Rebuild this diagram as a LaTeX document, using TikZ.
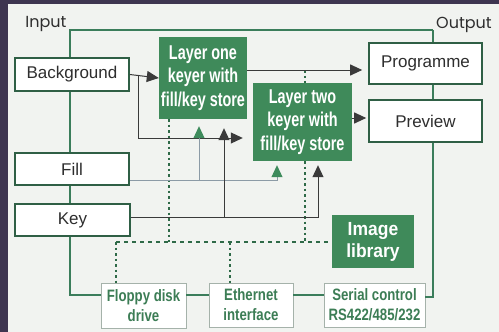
\documentclass[tikz,border=0pt]{standalone}
\usepackage{fontspec}
\setmainfont{Liberation Sans}
\newfontfamily\condb[FakeStretch=0.72]{Liberation Sans Bold}
\newfontfamily\imgb[FakeStretch=0.92]{Liberation Sans Bold}
\newfontfamily\botb[FakeStretch=0.8]{Liberation Sans Bold}
\newfontfamily\geo{Poppins}
\usetikzlibrary{arrows.meta}
\definecolor{framec}{HTML}{3E3550}
\definecolor{bgc}{HTML}{F1F3F0}
\definecolor{busc}{HTML}{3B7D5B}
\definecolor{boxedge}{HTML}{2F5F45}
\definecolor{greenfill}{HTML}{3F8A5A}
\definecolor{botedge}{HTML}{A5B2AA}
\definecolor{bottext}{HTML}{3C7D55}
\definecolor{connc}{HTML}{3A3A3A}
\definecolor{fillc}{HTML}{8C9BA6}
\definecolor{arrgreen}{HTML}{3E8B5C}
\definecolor{dotc}{HTML}{2F6A48}
\definecolor{textc}{HTML}{2E2E2E}
\tikzset{
  whitebox/.style={draw=boxedge, line width=1.6pt, fill=white, inner sep=0pt, text=textc,
    font=\fontsize{17}{19}\selectfont},
  greenbox/.style={fill=greenfill, inner sep=0pt, text=white, align=center,
    font=\condb\fontsize{20}{23.5}\selectfont},
  imgbox/.style={fill=greenfill, inner sep=0pt, text=white, align=center,
    font=\imgb\fontsize{19}{22}\selectfont},
  botbox/.style={draw=botedge, line width=0.8pt, fill=white, inner sep=0pt, text=bottext, align=center,
    font=\botb\fontsize{16.5}{20}\selectfont},
  label/.style={text=textc, inner sep=0pt, font=\geo\fontsize{16}{18}\selectfont},
  bus/.style={draw=busc, line width=1.9pt},
  conn/.style={draw=connc, line width=1pt},
  fillconn/.style={draw=fillc, line width=1pt},
  darrow/.style={-{Triangle[length=12pt,width=11pt,color=connc]}},
  garrow/.style={-{Triangle[length=12pt,width=11pt,color=arrgreen]}},
  vdot/.style={draw=dotc, line width=1.7pt, dash pattern=on 2.5pt off 3pt},
  hdash/.style={draw=dotc, line width=1.7pt, dash pattern=on 4pt off 4pt},
}
\begin{document}
\begin{tikzpicture}[x=1pt,y=-1pt]
\useasboundingbox (0,0) rectangle (499,332);
\fill[framec] (0,0) rectangle (499,332);
\fill[bgc] (8,4) rectangle (499,332);

% nodes
\node[label] (input) at (46,24) {Input};
\node[label] (output) at (464,25) {Output};
\node[whitebox, minimum width=114pt, minimum height=33pt] (bg) at (72,74.5) {Background};
\node[whitebox, minimum width=114pt, minimum height=32pt] (fill) at (72,169) {Fill};
\node[whitebox, minimum width=115pt, minimum height=32pt] (key) at (72.5,220) {Key};
\node[greenbox, minimum width=88pt, minimum height=82pt] (l1) at (203,78) {Layer one\\keyer with\\fill/key store};
\node[greenbox, minimum width=99pt, minimum height=78pt] (l2) at (302.5,122) {Layer two\\keyer with\\fill/key store};
\node[whitebox, minimum width=113pt, minimum height=41pt] (prog) at (425.5,63.5) {Programme};
\node[whitebox, minimum width=113pt, minimum height=42pt] (prev) at (425.5,121) {Preview};
\node[imgbox, minimum width=82pt, minimum height=53pt] (img) at (373,241.5) {Image\\library};
\node[botbox, minimum width=85pt, minimum height=45pt] (floppy) at (143.5,305.5) {Floppy disk\\drive};
\node[botbox, minimum width=84pt, minimum height=44pt] (eth) at (251,305) {Ethernet\\interface};
\node[botbox, minimum width=101pt, minimum height=44pt] (serial) at (374.5,305) {Serial control\\RS422/485/232};

% bus coordinates
\coordinate (tl) at (70,30);
\coordinate (tr) at (433,30);
\coordinate (bl) at (70,295);
\coordinate (br) at (433,297);

% bus
\draw[bus] (tr) -- (tl) -- (tl |- bg.north);
\draw[bus] (bg.south -| tl) -- (fill.north -| tl);
\draw[bus] (fill.south -| tl) -- (key.north -| tl);
\draw[bus] (key.south -| tl) -- (bl) -- (floppy.west |- bl);
\draw[bus] (floppy.east |- bl) -- (eth.west |- bl);
\draw[bus] (eth.east |- bl) -- (serial.west |- bl);
\draw[bus] (serial.east |- br) -- (br) -- (prev.south -| br);
\draw[bus] (prev.north -| br) -- (prog.south -| br);
\draw[bus] (prog.north -| br) -- (tr);

% dotted / dashed links
\coordinate (d1) at (169,242);
\coordinate (d2) at (305,242);
\coordinate (d3) at (116,242);
\coordinate (d4) at (230,242);
\draw[vdot] (l1.south -| d1) -- (d1);
\draw[vdot] (l2.south -| d2) -- (d2);
\draw[vdot] (d2 |- 0,70) -- (l2.north -| d2);
\draw[hdash] (d3) -- (img.west |- d3);
\draw[vdot] (d3) -- (floppy.north -| d3);
\draw[vdot] (d4) -- (eth.north -| d4);

% background connectors
\coordinate (j1) at (138,74.5);
\draw[conn, darrow] (bg.east) -- (l1.west);
\draw[conn, darrow, shorten >=10pt] (j1) |- (l2.west |- 0,138);
\draw[conn, darrow, shorten >=6pt] (l1.east |- 0,70) -- (prog.west |- 0,70);
\draw[conn, darrow, shorten >=2pt] (l2.east |- 0,118) -- (prev.west |- 0,118);

% fill connectors
\coordinate (f1) at (199,180);
\coordinate (f2) at (277,180);
\draw[fillconn] (fill.east |- f1) -- (f1);
\draw[fillconn, garrow, shorten >=4pt] (f1) -- (f2) -- (l2.south -| f2);
\draw[fillconn, garrow, shorten >=7pt] (f1) -- (l1.south -| f1);

% key connectors
\coordinate (k1) at (224,217);
\coordinate (k2) at (318,217);
\draw[conn] (key.east |- k1) -- (k1);
\draw[conn, darrow, shorten >=4pt] (k1) -- (k2) -- (l2.south -| k2);
\draw[conn, darrow, shorten >=9pt] (k1) -- (l1.south -| k1);
\end{tikzpicture}
\end{document}
